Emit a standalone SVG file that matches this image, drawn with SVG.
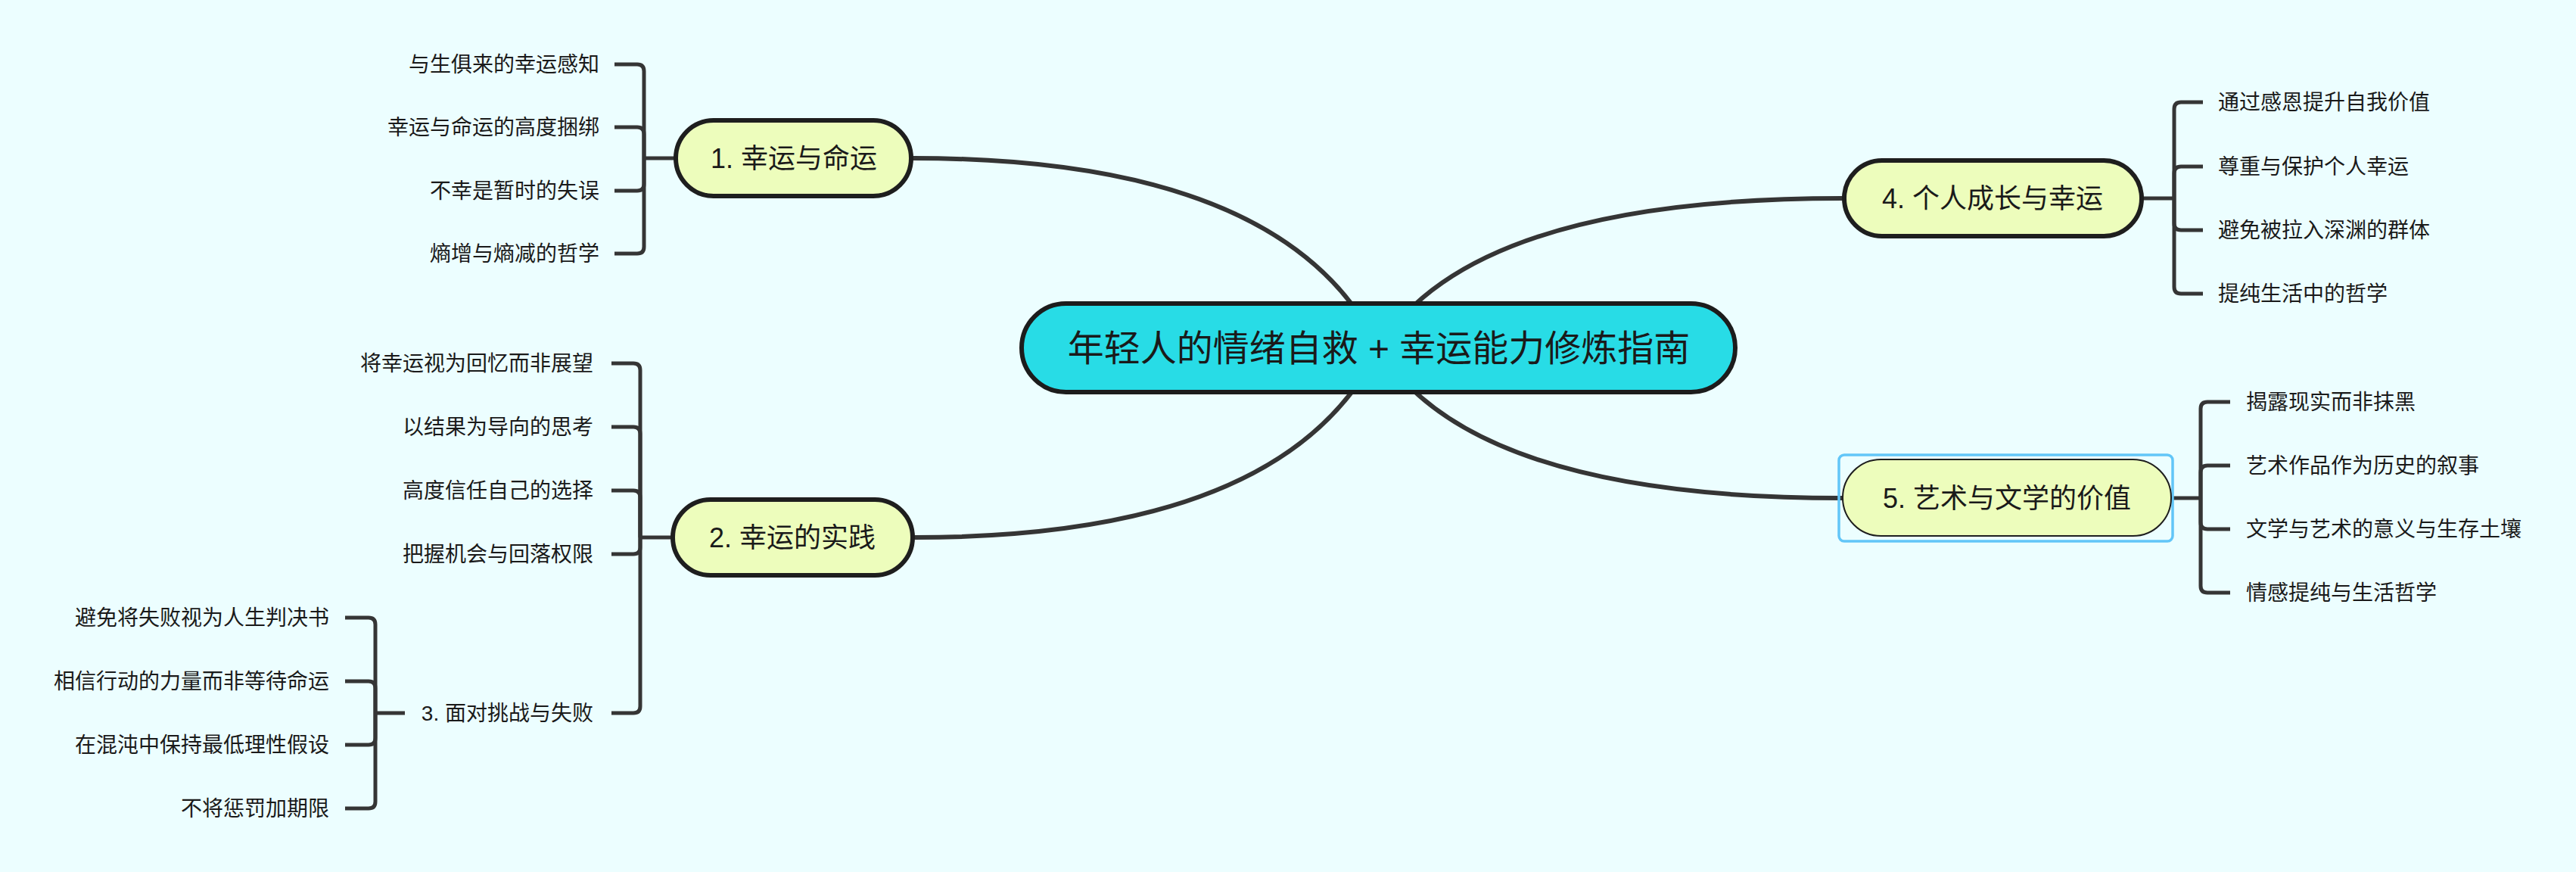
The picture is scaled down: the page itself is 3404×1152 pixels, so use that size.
<svg xmlns="http://www.w3.org/2000/svg" width="3404" height="1152" viewBox="0 0 3404 1152">
<style>
.bg{fill:#ecfeff}
.t{font-family:"Liberation Sans","Noto Sans CJK SC",sans-serif;fill:#1a1a1a}
.c{font-size:28px}
.m{font-size:36px;text-anchor:middle}
.r{text-anchor:end}
.main{fill:#edfdbc;stroke:#1e1e1e;stroke-width:6}
.curve{fill:none;stroke:#353535;stroke-width:6;stroke-linecap:round}
.br{fill:none;stroke:#353535;stroke-width:5}
</style>
<rect class="bg" x="0" y="0" width="3404" height="1152"/>
<g id="connectors">
<path class="curve" d="M1822 460 Q1700 209 1207 209"/>
<path class="curve" d="M1822 460 Q1700 710 1209 710"/>
<path class="curve" d="M1822 460 Q1944 262 2434 262"/>
<path class="curve" d="M1822 460 Q1944 658 2434 658"/>
<path class="br" d="M893 209 H851"/>
<path class="br" d="M851 209 V94 Q851 85 842 85 H812"/>
<path class="br" d="M851 209 V177 Q851 168 842 168 H812"/>
<path class="br" d="M851 209 V243 Q851 252 842 252 H812"/>
<path class="br" d="M851 209 V326 Q851 335 842 335 H812"/>
<path class="br" d="M889 710 H846"/>
<path class="br" d="M846 710 V489 Q846 480 837 480 H808"/>
<path class="br" d="M846 710 V573 Q846 564 837 564 H808"/>
<path class="br" d="M846 710 V657 Q846 648 837 648 H808"/>
<path class="br" d="M846 710 V723 Q846 732 837 732 H808"/>
<path class="br" d="M846 710 V933 Q846 942 837 942 H808"/>
<path class="br" d="M535 942 H496"/>
<path class="br" d="M496 942 V825 Q496 816 487 816 H456"/>
<path class="br" d="M496 942 V909 Q496 900 487 900 H456"/>
<path class="br" d="M496 942 V975 Q496 984 487 984 H456"/>
<path class="br" d="M496 942 V1059 Q496 1068 487 1068 H456"/>
<path class="br" d="M2830 262 H2873"/>
<path class="br" d="M2873 262 V144 Q2873 135 2882 135 H2911"/>
<path class="br" d="M2873 262 V229 Q2873 220 2882 220 H2911"/>
<path class="br" d="M2873 262 V295 Q2873 304 2882 304 H2911"/>
<path class="br" d="M2873 262 V379 Q2873 388 2882 388 H2911"/>
<path class="br" d="M2869 658 H2908"/>
<path class="br" d="M2908 658 V540 Q2908 531 2917 531 H2947"/>
<path class="br" d="M2908 658 V624 Q2908 615 2917 615 H2947"/>
<path class="br" d="M2908 658 V690 Q2908 699 2917 699 H2947"/>
<path class="br" d="M2908 658 V774 Q2908 783 2917 783 H2947"/>
</g>
<g id="central">
<rect x="1350" y="401" width="943" height="117" rx="58.5" fill="#28dce6" stroke="#1c1c1c" stroke-width="6"/>
<text class="t" x="1822" y="477" font-size="48" text-anchor="middle">年轻人的情绪自救 + 幸运能力修炼指南</text>
</g>
<g id="node1">
<rect class="main" x="893" y="159" width="311" height="100" rx="50"/>
<text class="t m" x="1049" y="222">1. 幸运与命运</text>
</g>
<g id="node1-children">
<text class="t c r" x="792" y="95">与生俱来的幸运感知</text>
<text class="t c r" x="792" y="178">幸运与命运的高度捆绑</text>
<text class="t c r" x="792" y="262">不幸是暂时的失误</text>
<text class="t c r" x="792" y="345">熵增与熵减的哲学</text>
</g>
<g id="node2">
<rect class="main" x="889" y="660" width="317" height="100" rx="50"/>
<text class="t m" x="1047" y="723">2. 幸运的实践</text>
</g>
<g id="node2-children">
<text class="t c r" x="784" y="490">将幸运视为回忆而非展望</text>
<text class="t c r" x="784" y="574">以结果为导向的思考</text>
<text class="t c r" x="784" y="658">高度信任自己的选择</text>
<text class="t c r" x="784" y="742">把握机会与回落权限</text>
</g>
<g id="node3">
<text class="t c r" x="784" y="952">3. 面对挑战与失败</text>
</g>
<g id="node3-children">
<text class="t c r" x="435" y="826">避免将失败视为人生判决书</text>
<text class="t c r" x="435" y="910">相信行动的力量而非等待命运</text>
<text class="t c r" x="435" y="994">在混沌中保持最低理性假设</text>
<text class="t c r" x="435" y="1078">不将惩罚加期限</text>
</g>
<g id="node4">
<rect class="main" x="2437" y="212" width="393" height="100" rx="50"/>
<text class="t m" x="2633" y="275">4. 个人成长与幸运</text>
</g>
<g id="node4-children">
<text class="t c" x="2931" y="145">通过感恩提升自我价值</text>
<text class="t c" x="2931" y="230">尊重与保护个人幸运</text>
<text class="t c" x="2931" y="314">避免被拉入深渊的群体</text>
<text class="t c" x="2931" y="398">提纯生活中的哲学</text>
</g>
<g id="node5">
<rect x="2430" y="601" width="441" height="114" rx="7" fill="none" stroke="#62c6f8" stroke-width="3.5"/>
<rect x="2435" y="607" width="434" height="101" rx="50.5" fill="#edfdbc" stroke="#1e1e1e" stroke-width="2"/>
<text class="t m" x="2652" y="671">5. 艺术与文学的价值</text>
</g>
<g id="node5-children">
<text class="t c" x="2968" y="541">揭露现实而非抹黑</text>
<text class="t c" x="2968" y="625">艺术作品作为历史的叙事</text>
<text class="t c" x="2968" y="709">文学与艺术的意义与生存土壤</text>
<text class="t c" x="2968" y="793">情感提纯与生活哲学</text>
</g>
</svg>
